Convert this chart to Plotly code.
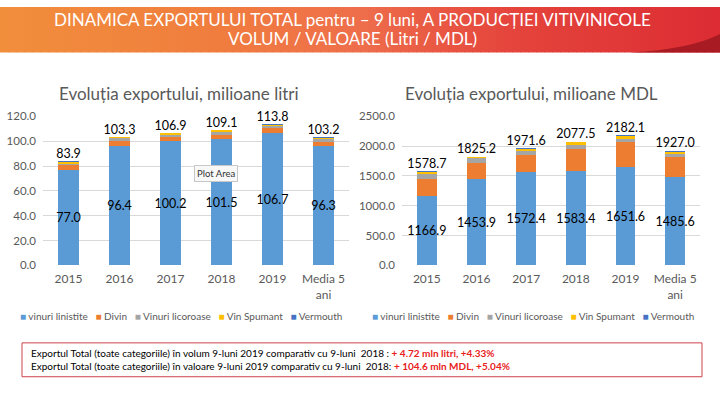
import plotly.graph_objects as go

# ---------------- data ----------------
categories = ["2015", "2016", "2017", "2018", "2019", "Media 5<br>ani"]
series_names = ["vinuri linistite", "Divin", "Vinuri licoroase", "Vin Spumant", "Vermouth"]
series_colors = ["#5B9BD5", "#ED7D31", "#A5A5A5", "#FFC000", "#4472C4"]

# volume, million litres
vol_linistite = [77.0, 96.4, 100.2, 101.5, 106.7, 96.3]
vol_divin = [3.5, 3.5, 3.0, 3.8, 3.6, 3.4]
vol_licoroase = [1.5, 2.5, 2.2, 2.2, 1.8, 2.2]
vol_spumant = [1.4, 0.7, 1.0, 1.2, 1.2, 1.0]
vol_vermouth = [0.5, 0.2, 0.5, 0.4, 0.5, 0.3]
vol_total = [83.9, 103.3, 106.9, 109.1, 113.8, 103.2]

# value, million MDL
val_linistite = [1166.9, 1453.9, 1572.4, 1583.4, 1651.6, 1485.6]
val_divin = [290.0, 265.0, 285.0, 375.0, 425.0, 330.0]
val_licoroase = [70.0, 75.0, 60.0, 60.0, 50.0, 55.0]
val_spumant = [35.0, 20.0, 40.0, 45.0, 40.0, 40.0]
val_vermouth = [16.8, 11.3, 14.2, 14.1, 15.5, 16.4]
val_total = [1578.7, 1825.2, 1971.6, 2077.5, 2182.1, 1927.0]

vol_series = [vol_linistite, vol_divin, vol_licoroase, vol_spumant, vol_vermouth]
val_series = [val_linistite, val_divin, val_licoroase, val_spumant, val_vermouth]

# ---------------- helpers ----------------
W, H = 720, 405
FONT = "Lato"
GREY = "#595959"


def fx(p):
    return p / W


def fy(p):
    return 1 - p / H


fig = go.Figure()

for i, (name, color) in enumerate(zip(series_names, series_colors)):
    for vals, xa, ya in ((vol_series[i], "x", "y"), (val_series[i], "x2", "y2")):
        kw = {}
        if i == 0:
            kw = dict(
                text=[f"{v:.1f}" for v in vals],
                textposition="inside",
                insidetextanchor="middle",
                textangle=0,
                constraintext="none",
                textfont=dict(family=FONT, size=12.5, color="#000000"),
            )
        fig.add_trace(go.Bar(
            x=categories, y=vals, name=name, marker_color=color,
            marker_line_width=0, width=0.4, xaxis=xa, yaxis=ya,
            showlegend=False, **kw))

for tot, xa, ya in ((vol_total, "x", "y"), (val_total, "x2", "y2")):
    fig.add_trace(go.Scatter(
        x=categories, y=tot, mode="text", text=[f"{v:.1f}" for v in tot],
        textposition="top center", cliponaxis=False, showlegend=False,
        textfont=dict(family=FONT, size=12.5, color="#000000"),
        xaxis=xa, yaxis=ya))

axis_common_x = dict(showgrid=False, showline=False, ticks="", zeroline=False,
                     ticklabelstandoff=5,
                     tickfont=dict(family=FONT, size=12, color=GREY))
axis_common_y = dict(showgrid=True, gridcolor="#D9D9D9", gridwidth=1, zeroline=False,
                     showline=False, ticks="", tickformat=".1f",
                     tickfont=dict(family=FONT, size=11.5, color=GREY))

# ---------------- shapes ----------------
shapes = []
# banner gradient
stops = [(0, (241, 142, 60)), (0.3, (240, 125, 62)), (0.5, (238, 110, 75)),
         (0.7, (229, 70, 60)), (1.0, (221, 44, 52))]


def grad(t):
    for (t0, c0), (t1, c1) in zip(stops[:-1], stops[1:]):
        if t0 <= t <= t1:
            u = (t - t0) / (t1 - t0)
            return "rgb(%d,%d,%d)" % tuple(round(a + (b - a) * u) for a, b in zip(c0, c1))
    return "rgb(221,44,52)"


N = 90
for k in range(N):
    x0 = k * W / N
    x1 = (k + 1) * W / N + 0.6
    shapes.append(dict(type="rect", xref="paper", yref="paper",
                       x0=fx(x0), x1=fx(x1), y0=fy(47), y1=fy(0),
                       fillcolor=grad(k / (N - 1)), line_width=0, layer="below"))
# dark swoosh bottom-right
shapes.append(dict(type="path", xref="paper", yref="paper",
                   path=f"M {fx(630)},{fy(47)} Q {fx(690)},{fy(44)} {fx(720)},{fy(28)} L {fx(720)},{fy(47)} Z",
                   fillcolor="#A91B22", line_width=0, layer="below"))
# bottom info box
shapes.append(dict(type="rect", xref="paper", yref="paper",
                   x0=fx(22), x1=fx(702), y0=fy(382), y1=fy(347),
                   line=dict(color="#D0424A", width=1), fillcolor="rgba(0,0,0,0)"))

# ---------------- annotations ----------------
ann = []


def label(text, x, y, size, color, xanchor="center", **extra):
    ann.append(dict(text=text, x=fx(x), y=fy(y), xref="paper", yref="paper",
                    xanchor=xanchor, yanchor="middle", showarrow=False,
                    font=dict(family=FONT, size=size, color=color), **extra))


label("DINAMICA EXPORTULUI TOTAL pentru – 9 luni, A PRODUCȚIEI VITIVINICOLE", 352, 13, 17, "white")
label("VOLUM / VALOARE (Litri / MDL)", 352, 33, 17, "white")
label("Evoluția exportului, milioane litri", 179, 89, 17, GREY)
label("Evoluția exportului, milioane MDL", 531, 89, 17, GREY)

legend_text = "   ".join(
    f"<span style='color:{c}'>■</span> {n}" for n, c in zip(series_names, series_colors))
label(legend_text, 181, 319, 10, GREY)
label(legend_text, 533, 319, 10, GREY)

label("Plot Area", 216, 172, 9.5, "#333333",
      bgcolor="#F8F8F8", bordercolor="#C8C8C8", borderwidth=1, borderpad=2)

line1 = ("Exportul Total (toate categoriile) în volum 9-luni 2019 comparativ cu 9-luni  2018 : "
         "<b><span style='color:#E8211C'>+ 4.72 mln litri, +4.33%</span></b>")
line2 = ("Exportul Total (toate categoriile) în valoare 9-luni 2019 comparativ cu 9-luni  2018: "
         "<b><span style='color:#E8211C'>+ 104.6 mln MDL, +5.04%</span></b>")
label(line1, 29, 357, 10, "#000000", xanchor="left")
label(line2, 29, 371, 10, "#000000", xanchor="left")

fig.update_layout(
    width=W, height=H, autosize=False,
    margin=dict(l=0, r=0, t=0, b=0),
    paper_bgcolor="white", plot_bgcolor="white",
    barmode="stack", bargap=0.6,
    showlegend=False,
    font=dict(family=FONT, color=GREY),
    xaxis=dict(domain=[fx(43), fx(349)], anchor="y", **axis_common_x),
    yaxis=dict(domain=[fy(267), fy(113)], range=[0, 120], dtick=20, anchor="x",
               ticklabelstandoff=6, **axis_common_y),
    xaxis2=dict(domain=[fx(402), fx(700)], anchor="y2", **axis_common_x),
    yaxis2=dict(domain=[fy(267), fy(113)], range=[0, 2500], dtick=500, anchor="x2",
                ticklabelstandoff=6, **axis_common_y),
    shapes=shapes,
    annotations=ann,
)

fig.write_html("out.html",
               config={"displayModeBar": False, "staticPlot": True},
               post_script="document.body.style.margin='0px';document.body.style.overflow='hidden';")
